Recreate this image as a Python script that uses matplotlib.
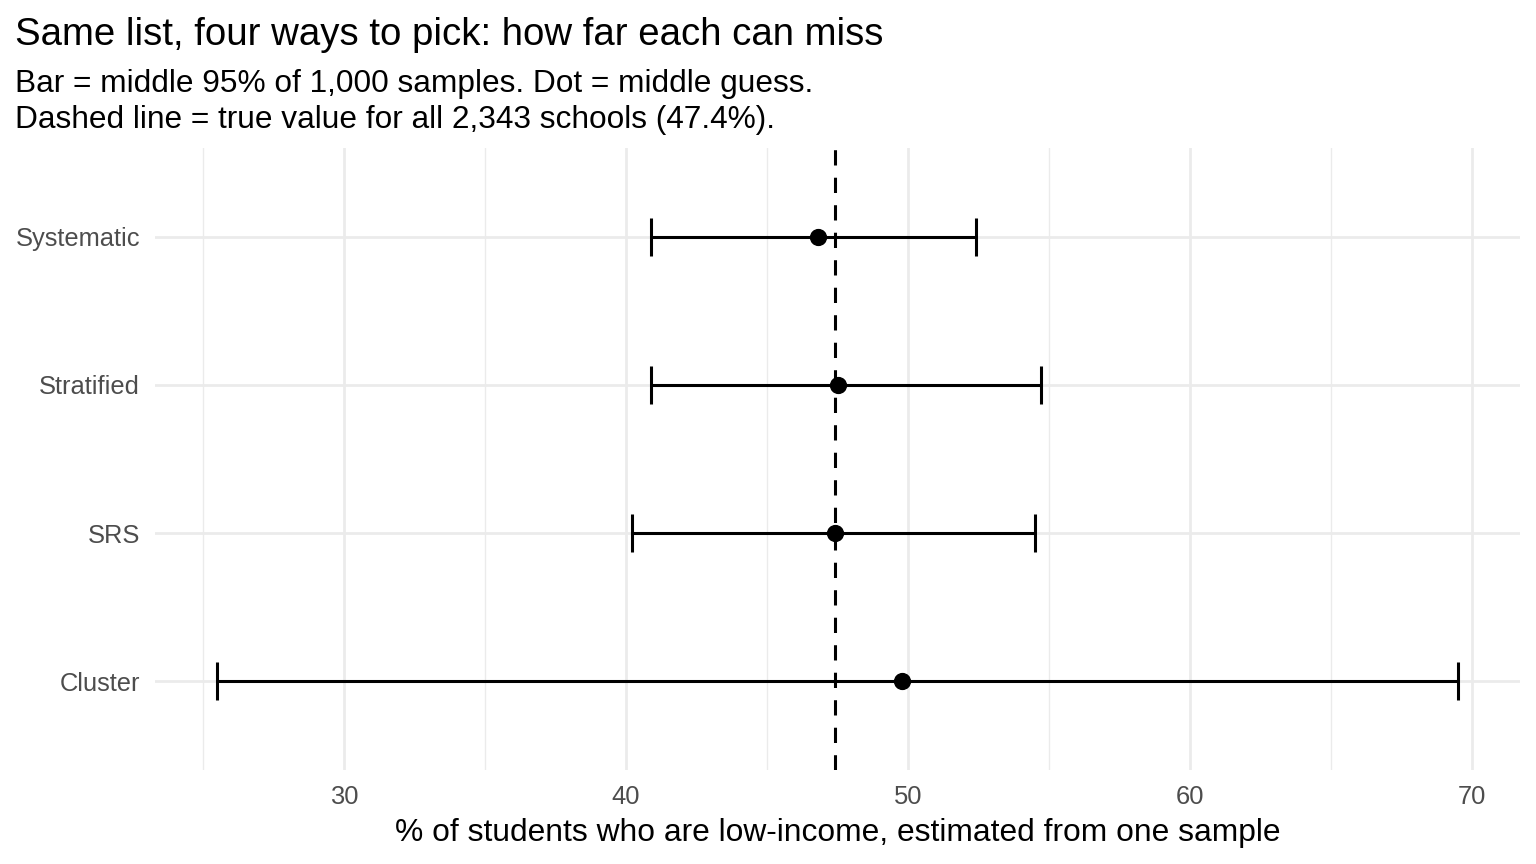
import numpy as np
import matplotlib.pyplot as plt

# sampling methods, bottom to top
methods = ["Cluster", "SRS", "Stratified", "Systematic"]
lower = [25.5, 40.2, 40.9, 40.9]
middle = [49.8, 47.4, 47.5, 46.8]
upper = [69.5, 54.5, 54.7, 52.4]
true_value = 47.4

plt.rcParams['font.family'] = ['Liberation Sans', 'DejaVu Sans']

fig, ax = plt.subplots(figsize=(15.36, 8.64), dpi=100)
fig.subplots_adjust(left=0.101, right=0.9896, top=0.8287, bottom=0.1088)

y = np.arange(len(methods))
lo = np.array(middle) - np.array(lower)
hi = np.array(upper) - np.array(middle)

# grid like theme_minimal
for v in [25, 35, 45, 55, 65]:
    ax.axvline(v, color='#EBEBEB', lw=1.0, zorder=0)
for v in [30, 40, 50, 60, 70]:
    ax.axvline(v, color='#EBEBEB', lw=2.0, zorder=0)
for v in y:
    ax.axhline(v, color='#EBEBEB', lw=2.0, zorder=0)

ax.errorbar(middle, y, xerr=[lo, hi], fmt='none', ecolor='black',
            elinewidth=2.2, capsize=13.5, capthick=2.2, zorder=2)
ax.axvline(true_value, color='black', lw=2.2, linestyle=(0, (5, 4)), zorder=3)
ax.scatter(middle, y, s=130, color='black', zorder=4)

ax.set_xlim(23.3, 71.7)
ax.set_ylim(-0.6, 3.6)
ax.set_xticks([30, 40, 50, 60, 70])
ax.set_yticks(y)
ax.set_yticklabels(methods)
ax.tick_params(length=0, labelsize=18.4, labelcolor='#4D4D4D')
ax.tick_params(axis='y', pad=11)
ax.tick_params(axis='x', pad=11)
for s in ax.spines.values():
    s.set_visible(False)

ax.set_xlabel("% of students who are low-income, estimated from one sample",
              fontsize=22.9, labelpad=6)

fig.text(0.0098, 0.948, "Same list, four ways to pick: how far each can miss",
         fontsize=27.6, ha='left', va='baseline')
fig.text(0.0098, 0.893, "Bar = middle 95% of 1,000 samples. Dot = middle guess.",
         fontsize=22.8, ha='left', va='baseline')
fig.text(0.0098, 0.852, "Dashed line = true value for all 2,343 schools (47.4%).",
         fontsize=22.8, ha='left', va='baseline')

fig.savefig("out.png", dpi=100)
